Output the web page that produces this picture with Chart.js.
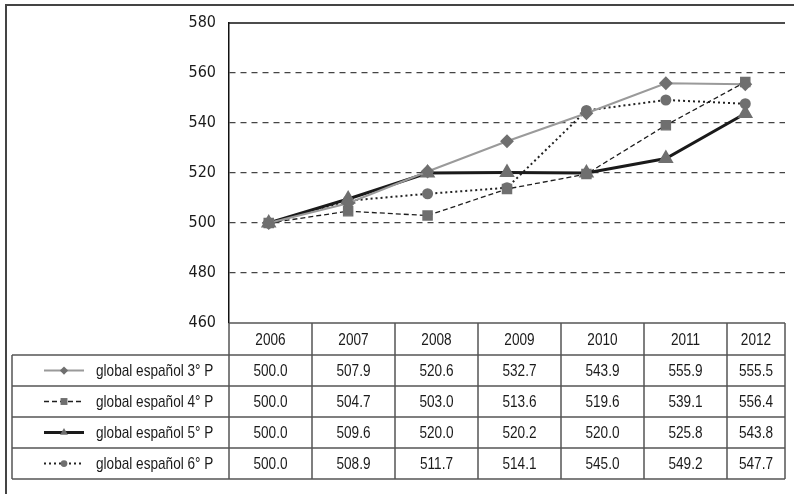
<!DOCTYPE html>
<html>
<head>
<meta charset="utf-8">
<script src="https://cdn.jsdelivr.net/npm/chart.js@4"></script>
<style>
    html, body { margin: 0; padding: 0; background: #fff; overflow: hidden; }
    #wrap { width: 794px; height: 494px; }
</style>
</head>
<body>
<div id="wrap"><canvas id="myChart" width="794" height="494"></canvas></div>
<script>
// datos
const years = ['2006', '2007', '2008', '2009', '2010', '2011', '2012']
const seriesNames = [
    'global español 3° P',
    'global español 4° P',
    'global español 5° P',
    'global español 6° P',
]
const p3 = [500.0, 507.9, 520.6, 532.7, 543.9, 555.9, 555.5]
const p4 = [500.0, 504.7, 503.0, 513.6, 519.6, 539.1, 556.4]
const p5 = [500.0, 509.6, 520.0, 520.2, 520.0, 525.8, 543.8]
const p6 = [500.0, 508.9, 511.7, 514.1, 545.0, 549.2, 547.7]
const yTicks = [460, 480, 500, 520, 540, 560, 580]

const TICK_FONT = '"DejaVu Sans Condensed", sans-serif'
const TABLE_FONT = '17px "Liberation Sans", Arial, sans-serif'
const NARROW = 0.8 // la fuente original es condensada
const markerColor = '#6f6f6f'
const textColor = '#1a1a1a'

// tabla de datos bajo el gráfico
const TABLE = {
    left: 12,
    headH: 32,
    rowH: 31,
    colW: 83,
    sampleX0: 44,
    sampleX1: 84,
    textX: 96,
}

function narrowText(c, text, x, y, align) {
    c.save()
    c.translate(x, y)
    c.scale(NARROW, 1)
    c.textAlign = align
    c.fillText(text, 0, 0)
    c.restore()
}

const dataTable = {
    id: 'dataTable',
    afterDraw(chart) {
        const c = chart.ctx
        const a = chart.chartArea
        const sets = chart.data.datasets
        c.save()

        // marco exterior
        c.strokeStyle = '#444'
        c.lineWidth = 2
        c.strokeRect(6, 5, 820, 520)

        // borde superior del área de trazado
        c.strokeStyle = '#111'
        c.lineWidth = 1.5
        c.beginPath()
        c.moveTo(a.left, a.top)
        c.lineTo(a.right, a.top)
        c.stroke()

        const top = a.bottom
        const bodyTop = top + TABLE.headH
        const bottom = bodyTop + TABLE.rowH * sets.length

        c.strokeStyle = '#555'
        c.lineWidth = 1.5
        c.beginPath()
        // líneas horizontales
        c.moveTo(a.left, top)
        c.lineTo(a.right, top)
        for (let r = 0; r <= sets.length; r++) {
            const y = bodyTop + r * TABLE.rowH
            c.moveTo(TABLE.left, y)
            c.lineTo(a.right, y)
        }
        // líneas verticales
        c.moveTo(TABLE.left, bodyTop)
        c.lineTo(TABLE.left, bottom)
        c.moveTo(a.left, top)
        c.lineTo(a.left, bottom)
        for (let i = 1; i <= years.length; i++) {
            const x = Math.min(a.left + i * TABLE.colW, a.right)
            c.moveTo(x, top)
            c.lineTo(x, bottom)
        }
        c.stroke()

        // textos
        c.fillStyle = textColor
        c.font = TABLE_FONT
        c.textBaseline = 'middle'
        const colCenter = (i) => {
            const x0 = a.left + i * TABLE.colW
            const x1 = Math.min(x0 + TABLE.colW, a.right)
            return (x0 + x1) / 2
        }
        years.forEach((yr, i) => {
            narrowText(c, yr, colCenter(i), top + TABLE.headH / 2 + 1, 'center')
        })
        sets.forEach((ds, r) => {
            const yMid = bodyTop + r * TABLE.rowH + TABLE.rowH / 2 + 1
            ds.data.forEach((v, i) => {
                narrowText(c, v.toFixed(1), colCenter(i), yMid, 'center')
            })
            // muestra de leyenda
            c.save()
            c.strokeStyle = ds.borderColor
            c.lineWidth = ds.borderWidth
            c.setLineDash(ds.borderDash || [])
            c.beginPath()
            c.moveTo(TABLE.sampleX0, yMid - 1)
            c.lineTo(TABLE.sampleX1, yMid - 1)
            c.stroke()
            c.setLineDash([])
            c.fillStyle = ds.pointBackgroundColor
            c.strokeStyle = ds.pointBorderColor
            Chart.helpers.drawPoint(c, {
                pointStyle: ds.pointStyle,
                radius: ds.pointRadius * 0.75,
                borderWidth: 0,
                rotation: 0,
            }, (TABLE.sampleX0 + TABLE.sampleX1) / 2, yMid - 1)
            c.restore()
            narrowText(c, ds.label, TABLE.textX, yMid, 'left')
        })
        c.restore()
    },
}

const ctx = document.getElementById('myChart').getContext('2d')
const data = {
    labels: years,
    datasets: [
        {
            label: seriesNames[0],
            data: p3,
            borderColor: '#9a9a9a',
            borderWidth: 2,
            pointStyle: 'rectRot',
            pointRadius: 5.5,
            pointBackgroundColor: markerColor,
            pointBorderColor: markerColor,
        },
        {
            label: seriesNames[1],
            data: p4,
            borderColor: '#1e1e1e',
            borderWidth: 1.3,
            borderDash: [5, 3],
            pointStyle: 'rect',
            pointRadius: 6.5,
            pointBackgroundColor: markerColor,
            pointBorderColor: markerColor,
        },
        {
            label: seriesNames[2],
            data: p5,
            borderColor: '#1a1a1a',
            borderWidth: 3,
            pointStyle: 'triangle',
            pointRadius: 6,
            pointBackgroundColor: markerColor,
            pointBorderColor: markerColor,
        },
        {
            label: seriesNames[3],
            data: p6,
            borderColor: '#222',
            borderWidth: 2,
            borderDash: [2, 3],
            pointStyle: 'circle',
            pointRadius: 4.5,
            pointBackgroundColor: markerColor,
            pointBorderColor: markerColor,
        },
    ],
}

const myChart = new Chart(ctx, {
    type: 'line',
    data: data,
    plugins: [dataTable],
    options: {
        responsive: false,
        animation: false,
        devicePixelRatio: 1,
        layout: {
            padding: { left: 0, top: 23, right: 4, bottom: 171 },
        },
        elements: {
            line: { tension: 0, fill: false },
            point: { borderWidth: 0, hoverRadius: 6 },
        },
        plugins: {
            legend: { display: false },
            tooltip: { enabled: false },
        },
        scales: {
            x: {
                type: 'category',
                offset: true,
                display: false,
            },
            y: {
                min: 460,
                max: 580,
                afterFit(scale) {
                    scale.width = 229
                },
                afterBuildTicks(scale) {
                    scale.ticks = yTicks.map((v) => ({ value: v }))
                },
                border: { display: true, color: '#111', width: 1.5, dash: [6, 5] },
                grid: {
                    drawTicks: false,
                    lineWidth: 1.2,
                    color: (c) =>
                        c.tick && (c.tick.value === 460 || c.tick.value === 580)
                            ? 'rgba(0,0,0,0)'
                            : '#444',
                },
                ticks: {
                    padding: 13,
                    color: textColor,
                    font: { family: TICK_FONT, size: 16 },
                },
            },
        },
    },
})
</script>
</body>
</html>
